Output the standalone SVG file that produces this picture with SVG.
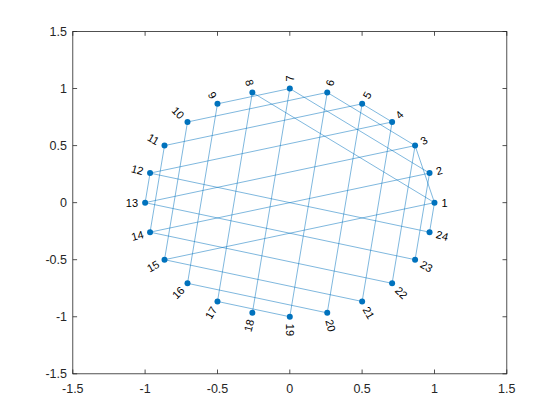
<svg xmlns="http://www.w3.org/2000/svg" width="560" height="420" viewBox="0 0 560 420">
<style>
.ax{stroke:#262626;stroke-width:0.8;fill:none}
.tk{stroke:#262626;stroke-width:0.8}
.tl{font-family:"Liberation Sans",Arial,sans-serif;font-size:12.5px;fill:#262626}
.e{stroke:#0072BD;stroke-opacity:0.5;stroke-width:1;fill:none}
.n{fill:#0072BD}
.lb{font-family:"Liberation Sans",Arial,sans-serif;font-size:11px;fill:#000;dominant-baseline:central}
.r{text-anchor:start}
.l{text-anchor:end}
</style>
<rect x="0" y="0" width="560" height="420" fill="#fff"/>
<g id="axes">
<rect class="ax" x="72.8" y="31.5" width="434" height="342.3" fill="#fff"/>
<g class="tk">
<line x1="72.8" y1="373.8" x2="72.8" y2="369.5"/><line x1="145.1" y1="373.8" x2="145.1" y2="369.5"/><line x1="217.5" y1="373.8" x2="217.5" y2="369.5"/><line x1="289.8" y1="373.8" x2="289.8" y2="369.5"/><line x1="362.1" y1="373.8" x2="362.1" y2="369.5"/><line x1="434.5" y1="373.8" x2="434.5" y2="369.5"/><line x1="506.8" y1="373.8" x2="506.8" y2="369.5"/>
<line x1="72.8" y1="31.5" x2="72.8" y2="35.8"/><line x1="145.1" y1="31.5" x2="145.1" y2="35.8"/><line x1="217.5" y1="31.5" x2="217.5" y2="35.8"/><line x1="289.8" y1="31.5" x2="289.8" y2="35.8"/><line x1="362.1" y1="31.5" x2="362.1" y2="35.8"/><line x1="434.5" y1="31.5" x2="434.5" y2="35.8"/><line x1="506.8" y1="31.5" x2="506.8" y2="35.8"/>
<line x1="72.8" y1="31.5" x2="77.1" y2="31.5"/><line x1="72.8" y1="88.5" x2="77.1" y2="88.5"/><line x1="72.8" y1="145.6" x2="77.1" y2="145.6"/><line x1="72.8" y1="202.65" x2="77.1" y2="202.65"/><line x1="72.8" y1="259.7" x2="77.1" y2="259.7"/><line x1="72.8" y1="316.75" x2="77.1" y2="316.75"/><line x1="72.8" y1="373.8" x2="77.1" y2="373.8"/>
<line x1="506.8" y1="31.5" x2="502.5" y2="31.5"/><line x1="506.8" y1="88.5" x2="502.5" y2="88.5"/><line x1="506.8" y1="145.6" x2="502.5" y2="145.6"/><line x1="506.8" y1="202.65" x2="502.5" y2="202.65"/><line x1="506.8" y1="259.7" x2="502.5" y2="259.7"/><line x1="506.8" y1="316.75" x2="502.5" y2="316.75"/><line x1="506.8" y1="373.8" x2="502.5" y2="373.8"/>
</g>
<g class="tl" text-anchor="middle">
<text x="72.8" y="392.5">-1.5</text><text x="145.1" y="392.5">-1</text><text x="217.5" y="392.5">-0.5</text><text x="289.8" y="392.5">0</text><text x="362.1" y="392.5">0.5</text><text x="434.5" y="392.5">1</text><text x="506.8" y="392.5">1.5</text>
</g>
<g class="tl" text-anchor="end">
<text x="67" y="35.9">1.5</text><text x="67" y="92.9">1</text><text x="67" y="150">0.5</text><text x="67" y="207">0</text><text x="67" y="264.1">-0.5</text><text x="67" y="321.1">-1</text><text x="67" y="378.2">-1.5</text>
</g>
</g>
<g id="edges">
<line class="e" x1="434.47" y1="202.65" x2="429.54" y2="232.18"/>
<line class="e" x1="429.54" y1="173.12" x2="415.09" y2="259.70"/>
<line class="e" x1="415.09" y1="145.60" x2="392.10" y2="283.33"/>
<line class="e" x1="392.10" y1="121.97" x2="362.14" y2="301.46"/>
<line class="e" x1="362.14" y1="103.84" x2="327.24" y2="312.86"/>
<line class="e" x1="327.24" y1="92.44" x2="289.80" y2="316.75"/>
<line class="e" x1="289.80" y1="88.55" x2="252.36" y2="312.86"/>
<line class="e" x1="252.36" y1="92.44" x2="217.47" y2="301.46"/>
<line class="e" x1="217.47" y1="103.84" x2="187.50" y2="283.33"/>
<line class="e" x1="187.50" y1="121.97" x2="164.51" y2="259.70"/>
<line class="e" x1="164.51" y1="145.60" x2="150.06" y2="232.18"/>
<line class="e" x1="150.06" y1="173.12" x2="145.13" y2="202.65"/>
<line class="e" x1="434.47" y1="202.65" x2="164.51" y2="259.70"/>
<line class="e" x1="429.54" y1="173.12" x2="150.06" y2="232.18"/>
<line class="e" x1="415.09" y1="145.60" x2="145.13" y2="202.65"/>
<line class="e" x1="392.10" y1="121.97" x2="150.06" y2="173.12"/>
<line class="e" x1="362.14" y1="103.84" x2="164.51" y2="145.60"/>
<line class="e" x1="327.24" y1="92.44" x2="187.50" y2="121.97"/>
<line class="e" x1="289.80" y1="88.55" x2="217.47" y2="103.84"/>
<line class="e" x1="150.06" y1="173.12" x2="429.54" y2="232.18"/>
<line class="e" x1="145.13" y1="202.65" x2="415.09" y2="259.70"/>
<line class="e" x1="150.06" y1="232.18" x2="392.10" y2="283.33"/>
<line class="e" x1="164.51" y1="259.70" x2="362.14" y2="301.46"/>
<line class="e" x1="187.50" y1="283.33" x2="327.24" y2="312.86"/>
<line class="e" x1="217.47" y1="301.46" x2="289.80" y2="316.75"/>
<line class="e" x1="434.47" y1="202.65" x2="252.36" y2="92.44"/>
<line class="e" x1="429.54" y1="173.12" x2="289.80" y2="88.55"/>
<line class="e" x1="415.09" y1="145.60" x2="327.24" y2="92.44"/>
<line class="e" x1="392.10" y1="121.97" x2="362.14" y2="103.84"/>
<line class="e" x1="434.47" y1="202.65" x2="415.09" y2="145.60"/>
</g>
<g id="nodes" class="n">
<g id="node1"><circle cx="434.47" cy="202.65" r="3"/></g>
<g id="node2"><circle cx="429.54" cy="173.12" r="3"/></g>
<g id="node3"><circle cx="415.09" cy="145.60" r="3"/></g>
<g id="node4"><circle cx="392.10" cy="121.97" r="3"/></g>
<g id="node5"><circle cx="362.14" cy="103.84" r="3"/></g>
<g id="node6"><circle cx="327.24" cy="92.44" r="3"/></g>
<g id="node7"><circle cx="289.80" cy="88.55" r="3"/></g>
<g id="node8"><circle cx="252.36" cy="92.44" r="3"/></g>
<g id="node9"><circle cx="217.47" cy="103.84" r="3"/></g>
<g id="node10"><circle cx="187.50" cy="121.97" r="3"/></g>
<g id="node11"><circle cx="164.51" cy="145.60" r="3"/></g>
<g id="node12"><circle cx="150.06" cy="173.12" r="3"/></g>
<g id="node13"><circle cx="145.13" cy="202.65" r="3"/></g>
<g id="node14"><circle cx="150.06" cy="232.18" r="3"/></g>
<g id="node15"><circle cx="164.51" cy="259.70" r="3"/></g>
<g id="node16"><circle cx="187.50" cy="283.33" r="3"/></g>
<g id="node17"><circle cx="217.47" cy="301.46" r="3"/></g>
<g id="node18"><circle cx="252.36" cy="312.86" r="3"/></g>
<g id="node19"><circle cx="289.80" cy="316.75" r="3"/></g>
<g id="node20"><circle cx="327.24" cy="312.86" r="3"/></g>
<g id="node21"><circle cx="362.14" cy="301.46" r="3"/></g>
<g id="node22"><circle cx="392.10" cy="283.33" r="3"/></g>
<g id="node23"><circle cx="415.09" cy="259.70" r="3"/></g>
<g id="node24"><circle cx="429.54" cy="232.18" r="3"/></g>
</g>
<g id="labels" class="lb">
<text class="r" transform="translate(441.5,202.65)">1</text>
<text class="r" transform="translate(436.3,171.3) rotate(-15)">2</text>
<text class="r" transform="translate(421.2,142.1) rotate(-30)">3</text>
<text class="r" transform="translate(397.1,117.0) rotate(-45)">4</text>
<text class="r" transform="translate(365.6,97.8) rotate(-60)">5</text>
<text class="r" transform="translate(329.1,85.7) rotate(-75)">6</text>
<text class="r" transform="translate(289.8,81.5) rotate(-90)">7</text>
<text class="l" transform="translate(250.5,85.7) rotate(75)">8</text>
<text class="l" transform="translate(214.0,97.8) rotate(60)">9</text>
<text class="l" transform="translate(182.5,117.0) rotate(45)">10</text>
<text class="l" transform="translate(158.4,142.1) rotate(30)">11</text>
<text class="l" transform="translate(143.3,171.3) rotate(15)">12</text>
<text class="l" transform="translate(138.1,202.65)">13</text>
<text class="l" transform="translate(143.3,234.0) rotate(-15)">14</text>
<text class="l" transform="translate(158.4,263.2) rotate(-30)">15</text>
<text class="l" transform="translate(182.5,288.3) rotate(-45)">16</text>
<text class="l" transform="translate(214.0,307.5) rotate(-60)">17</text>
<text class="l" transform="translate(250.5,319.6) rotate(-75)">18</text>
<text class="r" transform="translate(289.8,323.8) rotate(90)">19</text>
<text class="r" transform="translate(329.1,319.6) rotate(75)">20</text>
<text class="r" transform="translate(365.6,307.5) rotate(60)">21</text>
<text class="r" transform="translate(397.1,288.3) rotate(45)">22</text>
<text class="r" transform="translate(421.2,263.2) rotate(30)">23</text>
<text class="r" transform="translate(436.3,234.0) rotate(15)">24</text>
</g>
</svg>
